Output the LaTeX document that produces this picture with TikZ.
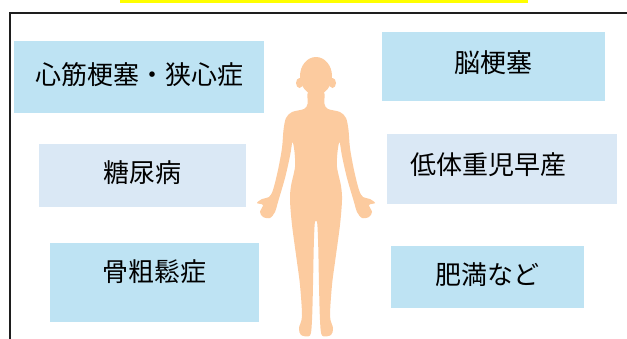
\documentclass[tikz,border=0pt]{standalone}
\usepackage{fontspec}
\setmainfont{Noto Sans CJK JP}
\usepackage{tikz}
\usetikzlibrary{positioning}
\definecolor{softblue}{HTML}{BEE3F3}
\definecolor{paleblue}{HTML}{DAE8F5}
\definecolor{skintone}{HTML}{FCCB9F}
\definecolor{framegray}{HTML}{1E1E1E}
\definecolor{markyellow}{HTML}{FFFF00}

\tikzset{
  disease/.style={fill=softblue,inner sep=0pt},
  disease pale/.style={disease,fill=paleblue},
}

\begin{document}
\begin{tikzpicture}[x=1pt,y=-1pt,font=\fontsize{26}{30}\selectfont]
\useasboundingbox (0,0) rectangle (627,338);
% frame and marker strip
\fill[markyellow] (120,0) rectangle (528,2.5);
\draw[framegray,line width=2pt] (10,340) -- (10,12.5) -- (630,12.5);

% left column
\node[disease,minimum width=250pt,minimum height=72pt,label={[name=heart-t,yshift=2pt]center:心筋梗塞・狭心症}] (heart) at (139,77) {};
\node[disease pale,minimum width=207pt,minimum height=63pt,label={[name=sugar-t,yshift=2.5pt]center:糖尿病}] (sugar) at (142.5,175.5) {};
\node[disease,minimum width=209pt,minimum height=79pt,label={[name=bone-t,yshift=10.5pt]center:骨粗鬆症}] (bone) at (154.5,282.5) {};

% right column
\node[disease,minimum width=223pt,minimum height=69pt,label={[name=brain-t,yshift=3.5pt]center:脳梗塞}] (brain) at (493.5,66.5) {};
\node[disease pale,minimum width=230pt,minimum height=70pt,label={[name=birth-t,anchor=west,xshift=20pt,yshift=4pt]west:低体重児早産}] (birth) at (502,169) {};
\node[disease,minimum width=193pt,minimum height=62pt,label={[name=fat-t,yshift=2pt]center:肥満など}] (fat) at (487.5,277) {};

% body silhouette, mirrored halves
\begin{scope}[shift={(316,0)}]
  \fill[skintone] (0,76) ellipse [x radius=16pt,y radius=19pt];
  \foreach \side in {1,-1} {
    \fill[skintone] (16.5*\side,83) ellipse [x radius=3.5pt,y radius=5pt];
    \fill[skintone,xscale=\side] plot[smooth,tension=0.5] coordinates {
      (-0.6,92) (8,92) (8.5,104) (12,109) (24,112) (30,118) (32.5,130)
      (34,148) (38,170) (43,190) (47,197) (54,199) (59,203) (53,205)
      (56,212) (53,217) (46,218) (41,212) (38,202) (31,178) (26,156)
      (23.5,142) (21.5,152) (21,167) (25,186) (26,200) (24,225)
      (19,262) (16,285) (14,316) (17,328) (15,335) (6,335.5) (4,320)
      (3,285) (2.2,245) (1.2,223) (-0.6,221)} -- cycle;
  }
\end{scope}
\end{tikzpicture}
\end{document}
